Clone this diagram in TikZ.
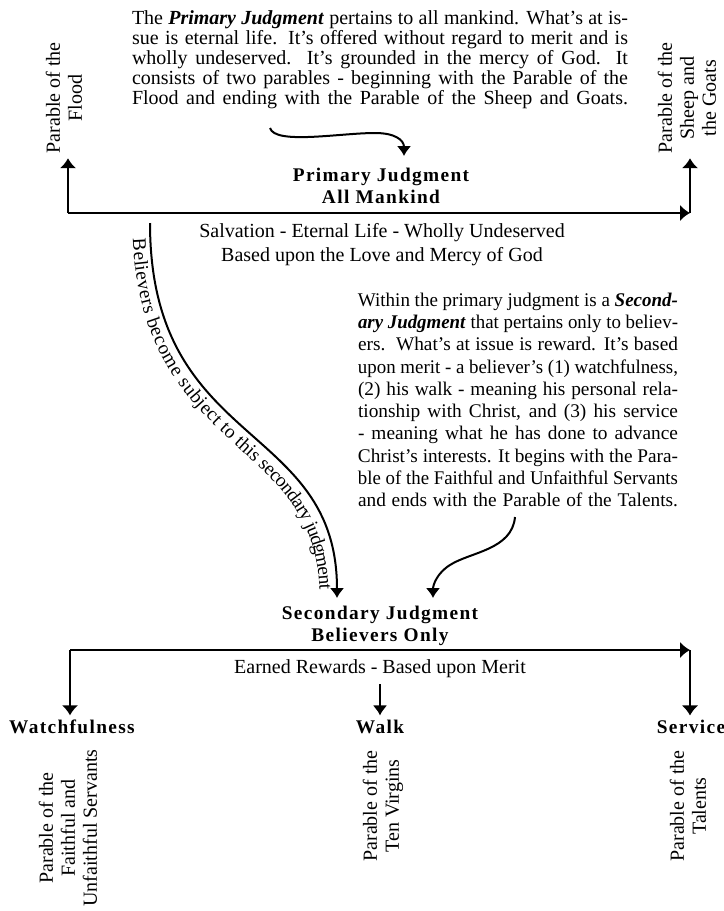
\documentclass[tikz,border=0pt]{standalone}
\usepackage{fontspec}
\usepackage{graphicx}
\setmainfont{Liberation Serif}
\newfontfamily\headfont[LetterSpace=7]{Liberation Serif}
\usetikzlibrary{decorations.text,arrows.meta}
\newsavebox\fitbox
\newcommand{\fitline}[2]{%
  \sbox\fitbox{#2}%
  \ifdim\wd\fitbox>#1\relax
    \resizebox{#1}{\ht\fitbox}{\usebox\fitbox}%
  \else
    \makebox[#1][s]{#2}%
  \fi}
\tikzset{x=0.75pt}
\tikzset{y=-0.75pt}
\tikzstyle{heading}=[font=\fontsize{14.5}{16.5}\headfont\bfseries, align=center]
\tikzstyle{plaintext}=[font=\fontsize{15}{18}\selectfont, align=center]
\tikzstyle{blurb}=[font=\fontsize{15}{15}\selectfont, align=center, inner sep=0pt]
\tikzstyle{parable}=[font=\fontsize{15}{16.5}\selectfont, align=center, rotate=90]
\tikzstyle{mainline}=[line width=2.2pt, -{Latex[length=7.5pt,width=12.5pt]}]
\tikzstyle{pointer}=[line width=1.5pt, -{Latex[length=7.5pt,width=11pt]}]

\begin{document}
\begin{tikzpicture}
  \useasboundingbox (0,0) rectangle (724,911);
  %% Primary judgment
  \draw (380,60) node[blurb] (primtext) {%
    \fitline{372pt}{The \textbf{\textit{Primary Judgment}} pertains to all mankind. What's at is-}\\
    \fitline{372pt}{sue is eternal life. It's offered without regard to merit and is}\\
    \fitline{372pt}{wholly undeserved.\ \ It's grounded in the mercy of God. It}\\
    \fitline{372pt}{consists of two parables - beginning with the Parable of the}\\
    \fitline{372pt}{Flood and ending with the Parable of the Sheep and Goats.}};
  \draw (381,186) node[heading] (prim) {Primary Judgment\\All Mankind};
  \draw (64,98) node[parable] (flood) {Parable of the\\Flood};
  \draw (687,98) node[parable] (sheep) {Parable of the\\Sheep and\\the Goats};
  \draw (382,245) node[plaintext] (salvation) {Salvation - Eternal Life - Wholly Undeserved\\Based upon the Love and Mercy of God};

  \coordinate (tl) at (68,213);
  \coordinate (tr) at (690,213);
  \draw[mainline] (tl) -- (tr);
  \draw[mainline] (tl) -- (tl |- flood.west);
  \draw[mainline] (tr) -- (tr |- sheep.west);

  \coordinate (p1) at (270,128);
  \coordinate (p2) at (404,156);
  \draw[pointer] (p1) .. controls (275,145) and (340,133) .. (375,133) .. controls (395,133) and (404,140) .. (p2);

  %% Secondary judgment
  \draw (518,400) node[blurb,font=\fontsize{14.5}{16.7}\selectfont] (sectext) {%
    \fitline{240pt}{Within the primary judgment is a \textbf{\textit{Second-}}}\\
    \fitline{240pt}{\textbf{\textit{ary Judgment}} that pertains only to believ-}\\
    \fitline{240pt}{ers.\ \ What's at issue is reward. It's based}\\
    \fitline{240pt}{upon merit - a believer's (1) watchfulness,}\\
    \fitline{240pt}{(2) his walk - meaning his personal rela-}\\
    \fitline{240pt}{tionship with Christ, and (3) his service}\\
    \fitline{240pt}{- meaning what he has done to advance}\\
    \fitline{240pt}{Christ's interests. It begins with the Para-}\\
    \fitline{240pt}{ble of the Faithful and Unfaithful Servants}\\
    \fitline{240pt}{and ends with the Parable of the Talents.}};
  \draw (380,626) node[heading] (sec) {Secondary Judgment\\Believers Only};
  \draw (380,669) node[plaintext] (earned) {Earned Rewards - Based upon Merit};

  \coordinate (s1) at (150,223);
  \coordinate (s2) at (337,598);
  \draw[pointer, postaction={decorate}, decoration={text along path, raise=-13pt,
      text align={left indent=11pt},
      text={|\fontsize{14.5}{14.5}\selectfont|Believers become subject to this secondary judgment}}]
    (s1) .. controls (150,450) and (337,420) .. (s2);

  \coordinate (b1) at (515,517);
  \coordinate (b2) at (433,598);
  \draw[pointer] (b1) .. controls (512,550) and (470,552) .. (450,565) .. controls (437,573) and (433,585) .. (b2);

  %% Three branches
  \draw (72,727) node[heading] (watch) {Watchfulness};
  \draw (380,727) node[heading] (walk) {Walk};
  \draw (691,727) node[heading] (serv) {Service};
  \draw (68,828) node[parable] (faith) {Parable of the\\Faithful and\\Unfaithful Servants};
  \draw (383,806) node[parable] (virgins) {Parable of the\\Ten Virgins};
  \draw (688,806) node[parable] (talents) {Parable of the\\Talents};

  \coordinate (bl) at (70,650);
  \coordinate (br) at (690,650);
  \coordinate (walktop) at (380,684);
  \draw[mainline] (bl) -- (br);
  \draw[mainline] (bl) -- (bl |- watch.north);
  \draw[mainline] (br) -- (br |- serv.north);
  \draw[pointer] (walktop) -- (walk.north);
\end{tikzpicture}
\end{document}
